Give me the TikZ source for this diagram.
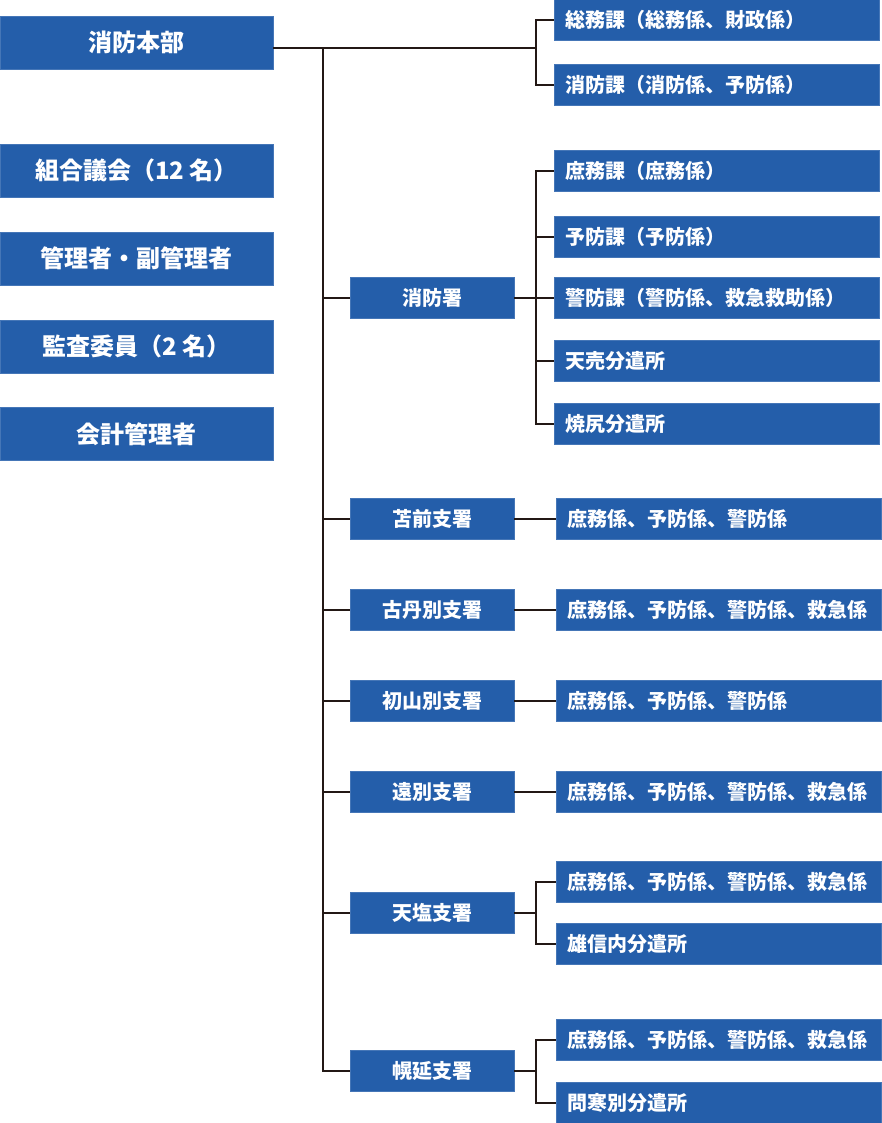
\documentclass[tikz,border=0pt]{standalone}
\usepackage{fontspec}
\setmainfont{Noto Sans CJK JP}
\usetikzlibrary{positioning}
\definecolor{boxblue}{RGB}{36,94,170}
\definecolor{linedark}{RGB}{35,24,21}
\begin{document}
\begin{tikzpicture}[x=1pt, y=-1pt,
    box/.style={fill=boxblue, draw=boxblue!85!white, text=white, inner sep=0pt,
        minimum height=41pt, font=\bfseries\fontsize{20}{20}\selectfont},
    headbox/.style={box, minimum width=273pt, minimum height=53pt,
        font=\bfseries\fontsize{24}{24}\selectfont},
    stationbox/.style={box, minimum width=164pt},
    unitbox/.style={box, anchor=west, inner xsep=11pt, text width=303pt, align=left},
    link/.style={draw=linedark, line width=1.5pt}]
    \useasboundingbox (0,0) rectangle (881,1123);

    % Left column
    \node[headbox] (hq) at (136.5,42.5) {消防本部};
    \node[headbox] (gikai) at (136.5,170.5) {組合議会（12 名）};
    \node[headbox] (kanri) at (136.5,258.5) {管理者・副管理者};
    \node[headbox] (kansa) at (136.5,346.5) {監査委員（2 名）};
    \node[headbox] (kaikei) at (136.5,434) {会計管理者};

    % Headquarters sections
    \node[unitbox] (somu) at (554,20) {総務課（総務係、財政係）};
    \node[unitbox] (bosai) at (554,85) {消防課（消防係、予防係）};
    \coordinate (hqfork) at (536,48);
    \draw[link] (hq.east |- hqfork) -- (hqfork);
    \draw[link] (somu.west) -| (hqfork) |- (bosai.west);

    % Stations
    \node[stationbox] (shobosho) at (432,298) {消防署};
    \node[stationbox] (tomamae) at (432,519) {苫前支署};
    \node[stationbox] (kotan) at (432,610) {古丹別支署};
    \node[stationbox] (shosan) at (432,701) {初山別支署};
    \node[stationbox] (enbetsu) at (432,792) {遠別支署};
    \node[stationbox] (teshio) at (432,913) {天塩支署};
    \node[stationbox] (horonobe) at (432,1071) {幌延支署};

    % Trunk line
    \coordinate (trunk) at (323,48);
    \draw[link] (trunk) |- (horonobe.west);
    \foreach \st in {shobosho,tomamae,kotan,shosan,enbetsu,teshio}
        \draw[link] (\st.west) -- (\st.west -| trunk);

    % Fire station units
    \node[unitbox] (shomuka) at (554,171) {庶務課（庶務係）};
    \node[unitbox] (yoboka) at (554,237) {予防課（予防係）};
    \node[unitbox] (keiboka) at (554,298) {警防課（警防係、救急救助係）};
    \node[unitbox] (teuri) at (554,361) {天売分遣所};
    \node[unitbox] (yagishiri) at (554,424) {焼尻分遣所};
    \coordinate (fsfork) at (536,298);
    \draw[link] (shobosho.east) -- (fsfork);
    \draw[link] (shomuka.west) -| (fsfork) |- (yagishiri.west);
    \foreach \u in {yoboka,keiboka,teuri}
        \draw[link] (\u.west) -- (\u.west -| fsfork);

    % Branch units
    \node[unitbox] (tomamaeu) at (556,519) {庶務係、予防係、警防係};
    \node[unitbox] (kotanu) at (556,610) {庶務係、予防係、警防係、救急係};
    \node[unitbox] (shosanu) at (556,701) {庶務係、予防係、警防係};
    \node[unitbox] (enbetsuu) at (556,792) {庶務係、予防係、警防係、救急係};
    \foreach \st in {tomamae,kotan,shosan,enbetsu}
        \draw[link] (\st.east) -- (\st u.west);

    \node[unitbox] (teshiou) at (556,882) {庶務係、予防係、警防係、救急係};
    \node[unitbox] (toshin) at (556,944) {雄信内分遣所};
    \coordinate (tsfork) at (536,913);
    \draw[link] (teshio.east) -- (tsfork);
    \draw[link] (teshiou.west) -| (tsfork) |- (toshin.west);

    \node[unitbox] (horonobeu) at (556,1040) {庶務係、予防係、警防係、救急係};
    \node[unitbox] (toikan) at (556,1103) {問寒別分遣所};
    \coordinate (hrfork) at (536,1071);
    \draw[link] (horonobe.east) -- (hrfork);
    \draw[link] (horonobeu.west) -| (hrfork) |- (toikan.west);
\end{tikzpicture}
\end{document}
